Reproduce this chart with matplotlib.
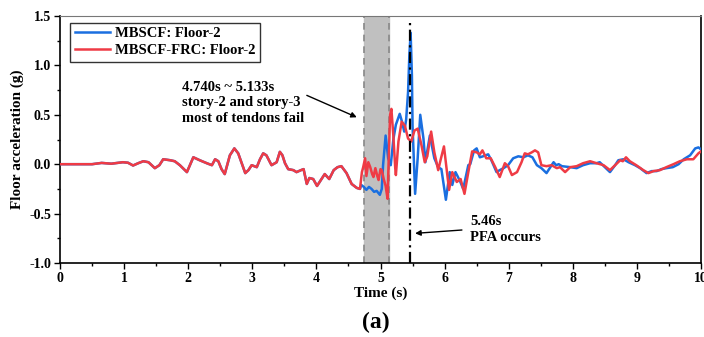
import numpy as np
import matplotlib.pyplot as plt
from matplotlib.ticker import MultipleLocator

plt.rcParams['font.family'] = ['Liberation Serif', 'DejaVu Serif']
plt.rcParams['font.weight'] = 'bold'

# common part (both models identical before failure)
t_common = [0.0, 0.3, 0.5, 0.65, 0.8, 0.98, 1.06, 1.14, 1.22, 1.3, 1.38, 1.48, 1.55, 1.61,
            1.72, 1.79, 1.87, 1.98, 2.02, 2.08, 2.18, 2.29, 2.37, 2.42, 2.47, 2.52, 2.57,
            2.65, 2.72, 2.78, 2.84, 2.89, 2.94, 2.99, 3.07, 3.12, 3.17, 3.22, 3.30, 3.38,
            3.43, 3.47, 3.51, 3.56, 3.64, 3.69, 3.76, 3.80, 3.85, 3.89, 3.95, 4.01, 4.08,
            4.13, 4.20, 4.27, 4.33, 4.39, 4.47, 4.55, 4.63]
a_common = [0.0, 0.0, 0.0, 0.013, 0.005, 0.02, 0.015, -0.013, 0.01, 0.03, 0.02, -0.04, -0.01, 0.05,
            0.04, 0.03, -0.01, -0.08, -0.02, 0.07, 0.04, 0.01, -0.01, 0.05, 0.03, -0.05, -0.10,
            0.09, 0.16, 0.11, 0.0, -0.09, -0.06, -0.01, -0.03, 0.05, 0.11, 0.09, -0.01, 0.02,
            0.125, 0.09, 0.01, -0.05, -0.06, -0.08, -0.06, -0.05, -0.20, -0.14, -0.15, -0.22, -0.15,
            -0.10, -0.15, -0.06, -0.03, -0.02, -0.09, -0.20, -0.24]

# MBSCF after 4.63 s
t_blue = [4.68, 4.70, 4.74, 4.78, 4.82, 4.86, 4.90, 4.94, 4.99, 5.02, 5.04, 5.08, 5.12, 5.16,
          5.20, 5.24, 5.30, 5.34, 5.37, 5.40, 5.43, 5.45, 5.47, 5.49, 5.50, 5.54, 5.58, 5.62,
          5.67, 5.70, 5.77, 5.84, 5.90, 5.95, 6.02, 6.08, 6.12, 6.17, 6.24, 6.29, 6.37, 6.40,
          6.46, 6.50, 6.55, 6.60, 6.68, 6.73, 6.81, 6.86, 6.92, 6.99, 7.07, 7.15, 7.23, 7.30,
          7.37, 7.44, 7.51, 7.59, 7.64, 7.70, 7.74, 7.78, 7.83, 7.96, 8.06, 8.16, 8.27, 8.37,
          8.42, 8.50, 8.58, 8.66, 8.71, 8.79, 8.87, 8.97, 9.05, 9.15, 9.23, 9.31, 9.38, 9.46,
          9.56, 9.65, 9.73, 9.83, 9.91, 9.96, 10.0]
a_blue = [-0.25, -0.21, -0.23, -0.26, -0.23, -0.25, -0.28, -0.27, -0.31, -0.25, -0.01, 0.29, 0.06, -0.01,
          0.25, 0.40, 0.51, 0.42, 0.33, 0.45, 0.73, 1.10, 1.33, 0.90, 0.39, -0.30, 0.06, 0.50,
          0.26, 0.02, 0.29, 0.06, -0.03, -0.05, -0.36, -0.08, -0.21, -0.08, -0.17, -0.25, -0.01, 0.0,
          0.14, 0.16, 0.07, 0.08, 0.10, 0.04, -0.08, -0.06, -0.04, -0.01, 0.06, 0.08, 0.07, 0.09,
          0.07, -0.01, -0.04, -0.09, -0.04, 0.02, -0.01, 0.0, -0.02, -0.03, -0.04, -0.01, 0.01, 0.01,
          0.02, -0.03, -0.08, -0.01, 0.04, 0.05, 0.02, -0.01, -0.04, -0.09, -0.07, -0.07, -0.05, -0.04,
          -0.03, 0.0, 0.05, 0.09, 0.16, 0.17, 0.15]

# MBSCF-FRC after 4.63 s
t_red = [4.68, 4.71, 4.73, 4.76, 4.78, 4.81, 4.84, 4.87, 4.89, 4.92, 4.95, 4.97, 5.00, 5.02,
         5.05, 5.08, 5.11, 5.13, 5.15, 5.17, 5.20, 5.23, 5.24, 5.28, 5.33, 5.38, 5.43, 5.48,
         5.53, 5.58, 5.64, 5.69, 5.73, 5.79, 5.84, 5.90, 5.94, 5.99, 6.03, 6.07, 6.12, 6.19,
         6.25, 6.31, 6.37, 6.43, 6.50, 6.55, 6.59, 6.65, 6.72, 6.79, 6.86, 6.94, 6.99, 7.05,
         7.13, 7.20, 7.25, 7.30, 7.36, 7.41, 7.46, 7.51, 7.59, 7.67, 7.75, 7.80, 7.88, 7.96,
         8.06, 8.16, 8.27, 8.37, 8.48, 8.58, 8.66, 8.74, 8.78, 8.83, 8.89, 8.99, 9.10, 9.18,
         9.26, 9.36, 9.46, 9.57, 9.67, 9.78, 9.88, 9.96, 10.0]
a_red = [-0.25, -0.08, -0.03, 0.06, -0.12, 0.02, -0.03, -0.10, -0.13, -0.04, -0.12, -0.16, -0.05, -0.06,
         -0.15, -0.22, -0.35, 0.10, 0.50, 0.56, 0.29, -0.04, -0.11, 0.23, 0.43, 0.39, 0.26, 0.23,
         0.34, 0.36, 0.19, 0.02, 0.08, 0.33, 0.12, -0.06, 0.05, 0.18, -0.04, -0.26, -0.08, -0.18,
         -0.15, -0.30, -0.08, 0.13, 0.12, 0.10, 0.14, 0.06, 0.06, -0.03, -0.13, 0.01, -0.02, -0.11,
         -0.08, 0.02, 0.11, 0.10, 0.12, 0.14, 0.12, -0.01, -0.02, -0.01, -0.04, -0.03, -0.08, -0.03,
         -0.02, 0.01, 0.03, 0.01, -0.01, -0.06, -0.01, 0.04, 0.03, 0.07, 0.03, -0.01, -0.06, -0.09,
         -0.07, -0.06, -0.03, 0.0, 0.03, 0.05, 0.05, 0.11, 0.13]

fail_start, fail_end = 4.740, 5.133
t_pfa = 5.46

tb = np.array(t_common + t_blue)
ab = np.array(a_common + a_blue)
tr = np.array(t_common + t_red)
ar = np.array(a_common + a_red)

fig = plt.figure(figsize=(7.04, 3.37), dpi=100)
ax = fig.add_axes([60/704, 74/337, 641/704, 247/337])

ax.axvspan(fail_start, fail_end, color='#c0c0c0', zorder=0)
ax.axvline(fail_start, color='#888888', ls=(0, (4, 3)), lw=1.2, zorder=1)
ax.axvline(fail_end, color='#888888', ls=(0, (4, 3)), lw=1.2, zorder=1)

ax.plot(tb, ab, color='#1a6fe0', lw=1.8, label='MBSCF: Floor-2', zorder=3,
        solid_joinstyle='round')
ax.plot(tr, ar, color='#ef3b45', lw=1.8, label='MBSCF-FRC: Floor-2', zorder=3,
        solid_joinstyle='round')

ax.plot([t_pfa, t_pfa], [-1.0, 1.45], color='black', lw=1.6,
        ls=(0, (5, 2, 1, 2)), zorder=4)

ax.set_xlim(0, 10)
ax.set_ylim(-1.0, 1.5)
ax.xaxis.set_major_locator(MultipleLocator(1))
ax.xaxis.set_minor_locator(MultipleLocator(0.5))
ax.yaxis.set_major_locator(MultipleLocator(0.5))
ax.yaxis.set_minor_locator(MultipleLocator(0.25))
ax.set_yticks([-1.0, -0.5, 0.0, 0.5, 1.0, 1.5])
ax.set_yticklabels(['-1.0', '-0.5', '0.0', '0.5', '1.0', '1.5'])
ax.tick_params(which='major', direction='out', length=4, width=1, labelsize=10, pad=2.5)
ax.tick_params(which='minor', direction='out', length=2.5, width=1)
for lbl in ax.get_xticklabels() + ax.get_yticklabels():
    lbl.set_fontweight('bold')

ax.spines['top'].set_color('#777777')
for s in ['left', 'bottom', 'right']:
    ax.spines[s].set_linewidth(1.2)

ax.set_xlabel('Time (s)', fontsize=11, fontweight='bold', labelpad=1)
ax.set_ylabel('Floor acceleration (g)', fontsize=11, fontweight='bold', labelpad=4)

leg = ax.legend(loc='upper left', fontsize=10.5, frameon=True, fancybox=False,
                edgecolor='black', borderpad=0.3, handlelength=2.4,
                handletextpad=0.35, labelspacing=0.25, borderaxespad=0,
                bbox_to_anchor=(0.016, 0.972))
leg.get_frame().set_linewidth(1.0)
for txt in leg.get_texts():
    txt.set_fontweight('bold')

ax.annotate('4.740s ~ 5.133s\nstory-2 and story-3\nmost of tendons fail',
            xy=(4.63, 0.475), xytext=(1.9, 0.62), fontsize=10.5, fontweight='bold',
            ha='left', va='center', linespacing=1.25,
            arrowprops=dict(arrowstyle='-|>', color='black', lw=1.0,
                            mutation_scale=8, shrinkA=0, shrinkB=0,
                            relpos=(1.0, 0.7)))
ax.annotate('5.46s\nPFA occurs', xy=(5.54, -0.70), xytext=(6.4, -0.66),
            fontsize=10.5, fontweight='bold', ha='left', va='center', linespacing=1.25,
            arrowprops=dict(arrowstyle='-|>', color='black', lw=1.0,
                            mutation_scale=8, shrinkA=4, shrinkB=0,
                            relpos=(0.0, 0.5)))

fig.text(376/704, 1 - 322/337, '(a)', fontsize=17, fontweight='bold',
         ha='center', va='center')

fig.savefig('out.png', dpi=100)
